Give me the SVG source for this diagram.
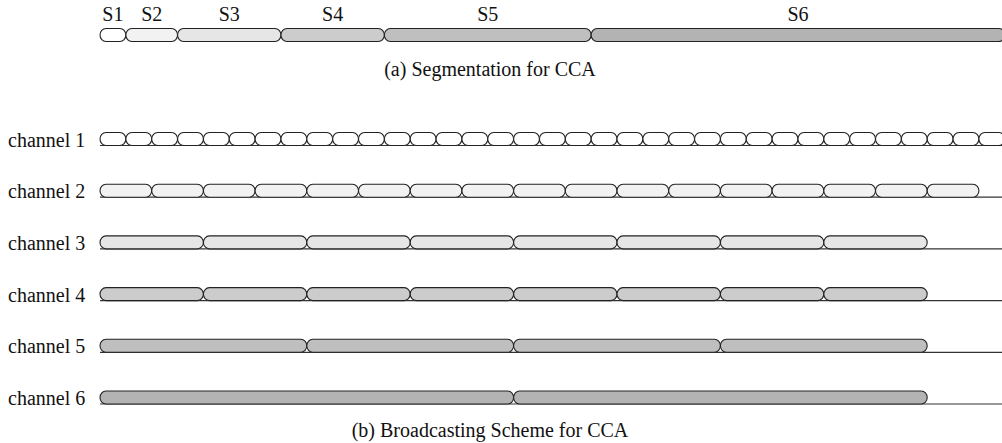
<svg xmlns="http://www.w3.org/2000/svg" xmlns:xlink="http://www.w3.org/1999/xlink" width="1002" height="443" viewBox="0 0 1002 443">
<style>
text{font-family:'Liberation Serif','DejaVu Serif',serif;font-size:20px;fill:#111}
.pill{stroke:#222;stroke-width:1.1}
.base{stroke:#333;stroke-width:1.2;fill:none}
.f1{fill:#ffffff}.f2{fill:#f2f2f2}.f3{fill:#e6e6e6}.f4{fill:#cccccc}.f5{fill:#bfbfbf}.f6{fill:#b3b3b3}
</style>
<defs>
<path id="p1" d="M6,-6.5 H19.85 A6,6.5 0 0 1 19.85,6.5 H6 A6,6.5 0 0 1 6,-6.5 Z"/>
<path id="p2" d="M6,-6.5 H45.7 A6,6.5 0 0 1 45.7,6.5 H6 A6,6.5 0 0 1 6,-6.5 Z"/>
<path id="p4" d="M6,-6.5 H97.4 A6,6.5 0 0 1 97.4,6.5 H6 A6,6.5 0 0 1 6,-6.5 Z"/>
<path id="p8" d="M6,-6.5 H200.8 A6,6.5 0 0 1 200.8,6.5 H6 A6,6.5 0 0 1 6,-6.5 Z"/>
<path id="p16" d="M6,-6.5 H407.6 A6,6.5 0 0 1 407.6,6.5 H6 A6,6.5 0 0 1 6,-6.5 Z"/>
</defs>
<g id="segmentation">
<g id="S1"><use href="#p1" x="100" y="35" class="pill f1"/><text x="112.9" y="21" text-anchor="middle">S1</text></g>
<g id="S2"><use href="#p2" x="125.85" y="35" class="pill f2"/><text x="151.7" y="21" text-anchor="middle">S2</text></g>
<g id="S3"><use href="#p4" x="177.55" y="35" class="pill f3"/><text x="229.25" y="21" text-anchor="middle">S3</text></g>
<g id="S4"><use href="#p4" x="280.95" y="35" class="pill f4"/><text x="332.65" y="21" text-anchor="middle">S4</text></g>
<g id="S5"><use href="#p8" x="384.35" y="35" class="pill f5"/><text x="487.75" y="21" text-anchor="middle">S5</text></g>
<g id="S6"><use href="#p16" x="591.15" y="35" class="pill f6"/><text x="797.95" y="21" text-anchor="middle">S6</text></g>
<text x="490" y="76" text-anchor="middle">(a) Segmentation for CCA</text>
</g>
<g id="connectors">
<line class="base" x1="100" y1="145.5" x2="1002" y2="145.5"/>
<line class="base" x1="100" y1="197.2" x2="1002" y2="197.2"/>
<line class="base" x1="100" y1="248.9" x2="1002" y2="248.9"/>
<line class="base" x1="100" y1="300.6" x2="1002" y2="300.6"/>
<line class="base" x1="100" y1="352.3" x2="1002" y2="352.3"/>
<line class="base" x1="100" y1="404" x2="1002" y2="404"/>
</g>
<g id="channel1" class="pill f1">
<use href="#p1" x="100" y="139"/><use href="#p1" x="125.85" y="139"/><use href="#p1" x="151.7" y="139"/><use href="#p1" x="177.55" y="139"/><use href="#p1" x="203.4" y="139"/><use href="#p1" x="229.25" y="139"/><use href="#p1" x="255.1" y="139"/><use href="#p1" x="280.95" y="139"/><use href="#p1" x="306.8" y="139"/><use href="#p1" x="332.65" y="139"/><use href="#p1" x="358.5" y="139"/><use href="#p1" x="384.35" y="139"/><use href="#p1" x="410.2" y="139"/><use href="#p1" x="436.05" y="139"/><use href="#p1" x="461.9" y="139"/><use href="#p1" x="487.75" y="139"/><use href="#p1" x="513.6" y="139"/><use href="#p1" x="539.45" y="139"/><use href="#p1" x="565.3" y="139"/><use href="#p1" x="591.15" y="139"/><use href="#p1" x="617" y="139"/><use href="#p1" x="642.85" y="139"/><use href="#p1" x="668.7" y="139"/><use href="#p1" x="694.55" y="139"/><use href="#p1" x="720.4" y="139"/><use href="#p1" x="746.25" y="139"/><use href="#p1" x="772.1" y="139"/><use href="#p1" x="797.95" y="139"/><use href="#p1" x="823.8" y="139"/><use href="#p1" x="849.65" y="139"/><use href="#p1" x="875.5" y="139"/><use href="#p1" x="901.35" y="139"/><use href="#p1" x="927.2" y="139"/><use href="#p1" x="953.05" y="139"/><use href="#p1" x="978.9" y="139"/>
</g>
<g id="channel2" class="pill f2">
<use href="#p2" x="100" y="190.7"/><use href="#p2" x="151.7" y="190.7"/><use href="#p2" x="203.4" y="190.7"/><use href="#p2" x="255.1" y="190.7"/><use href="#p2" x="306.8" y="190.7"/><use href="#p2" x="358.5" y="190.7"/><use href="#p2" x="410.2" y="190.7"/><use href="#p2" x="461.9" y="190.7"/><use href="#p2" x="513.6" y="190.7"/><use href="#p2" x="565.3" y="190.7"/><use href="#p2" x="617" y="190.7"/><use href="#p2" x="668.7" y="190.7"/><use href="#p2" x="720.4" y="190.7"/><use href="#p2" x="772.1" y="190.7"/><use href="#p2" x="823.8" y="190.7"/><use href="#p2" x="875.5" y="190.7"/><use href="#p2" x="927.2" y="190.7"/>
</g>
<g id="channel3" class="pill f3">
<use href="#p4" x="100" y="242.4"/><use href="#p4" x="203.4" y="242.4"/><use href="#p4" x="306.8" y="242.4"/><use href="#p4" x="410.2" y="242.4"/><use href="#p4" x="513.6" y="242.4"/><use href="#p4" x="617" y="242.4"/><use href="#p4" x="720.4" y="242.4"/><use href="#p4" x="823.8" y="242.4"/>
</g>
<g id="channel4" class="pill f4">
<use href="#p4" x="100" y="294.1"/><use href="#p4" x="203.4" y="294.1"/><use href="#p4" x="306.8" y="294.1"/><use href="#p4" x="410.2" y="294.1"/><use href="#p4" x="513.6" y="294.1"/><use href="#p4" x="617" y="294.1"/><use href="#p4" x="720.4" y="294.1"/><use href="#p4" x="823.8" y="294.1"/>
</g>
<g id="channel5" class="pill f5">
<use href="#p8" x="100" y="345.8"/><use href="#p8" x="306.8" y="345.8"/><use href="#p8" x="513.6" y="345.8"/><use href="#p8" x="720.4" y="345.8"/>
</g>
<g id="channel6" class="pill f6">
<use href="#p16" x="100" y="397.5"/><use href="#p16" x="513.6" y="397.5"/>
</g>
<g id="labels">
<text x="8" y="146.5">channel 1</text>
<text x="8" y="198.2">channel 2</text>
<text x="8" y="249.9">channel 3</text>
<text x="8" y="301.6">channel 4</text>
<text x="8" y="353.3">channel 5</text>
<text x="8" y="405">channel 6</text>
<text x="490" y="437" text-anchor="middle">(b) Broadcasting Scheme for CCA</text>
</g>
</svg>
